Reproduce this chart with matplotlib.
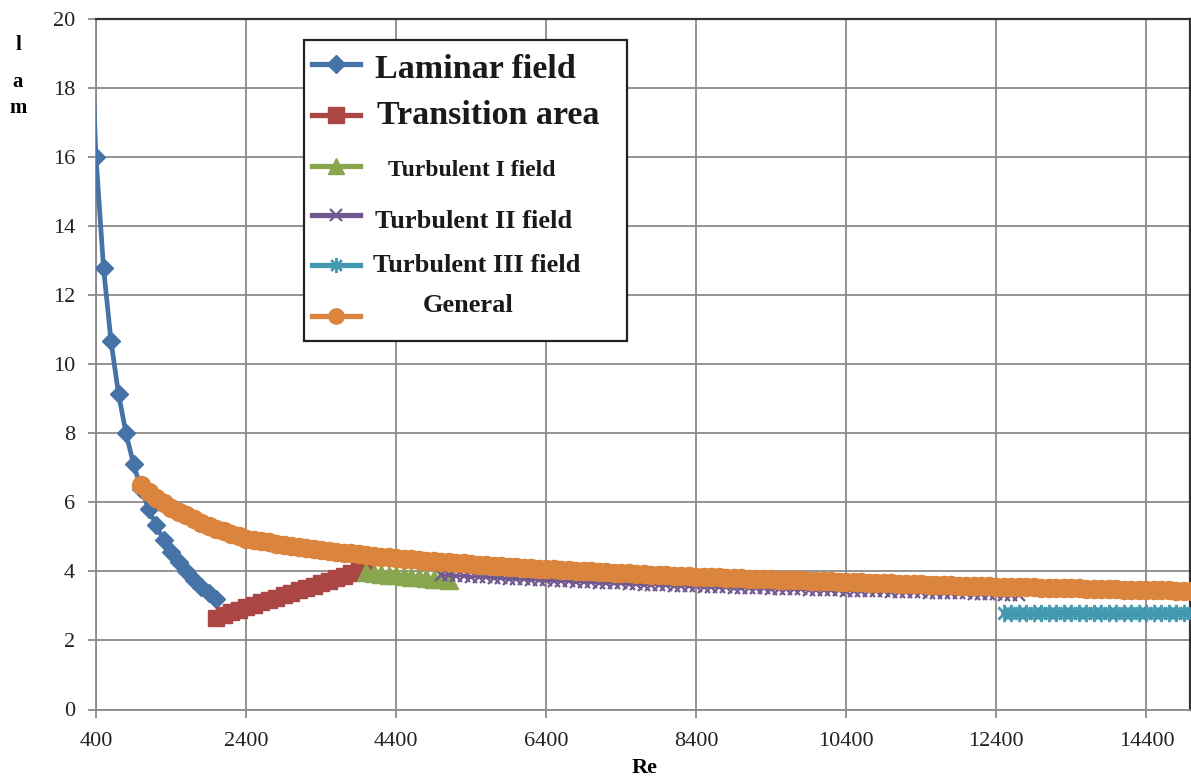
import matplotlib
matplotlib.use("Agg")
import matplotlib.pyplot as plt
from matplotlib.lines import Line2D
from matplotlib.patches import Rectangle
from matplotlib.path import Path

# ---- data ----
laminar_re = [300, 400, 500, 600, 700, 800, 900, 1000, 1100, 1200, 1300,
              1400, 1500, 1600, 1700, 1800, 1900, 2000]
laminar_lam = [21.33, 16.0, 12.8, 10.67, 9.14, 8.0, 7.11, 6.4, 5.82, 5.33, 4.92,
               4.57, 4.27, 4.0, 3.76, 3.56, 3.37, 3.2]

transition_re = [2000, 2100, 2200, 2300, 2400, 2500, 2600, 2700, 2800, 2900, 3000,
                 3100, 3200, 3300, 3400, 3500, 3600, 3700, 3800, 3900, 4000]
transition_lam = [2.65, 2.73, 2.81, 2.89, 2.96, 3.03, 3.10, 3.17, 3.24, 3.31, 3.38,
                  3.45, 3.52, 3.59, 3.66, 3.73, 3.80, 3.87, 3.94, 4.00, 4.06]

turb1_re = [4000, 4100, 4200, 4300, 4400, 4500, 4600, 4700, 4800, 4900, 5000, 5100]
turb1_lam = [3.97, 3.95, 3.93, 3.91, 3.89, 3.87, 3.85, 3.83, 3.81, 3.79, 3.77, 3.75]

turb2_re = list(range(5000, 12701, 100))
turb2_lam = [3.90, 3.89, 3.88, 3.86, 3.85, 3.84, 3.83, 3.82, 3.80, 3.79,
             3.78, 3.77, 3.76, 3.75, 3.74, 3.73, 3.72, 3.71, 3.70, 3.69,
             3.68, 3.67, 3.66, 3.66, 3.65, 3.64, 3.63, 3.62, 3.62, 3.61,
             3.60, 3.59, 3.58, 3.58, 3.57, 3.56, 3.55, 3.55, 3.54, 3.53,
             3.53, 3.52, 3.51, 3.51, 3.50, 3.49, 3.49, 3.48, 3.48, 3.47,
             3.46, 3.46, 3.45, 3.45, 3.44, 3.44, 3.43, 3.43, 3.42, 3.42,
             3.41, 3.40, 3.40, 3.39, 3.39, 3.38, 3.38, 3.37, 3.37, 3.36,
             3.36, 3.35, 3.35, 3.34, 3.34, 3.33, 3.33, 3.32]

turb3_re = list(range(12500, 15001, 100))
turb3_lam = [2.80, 2.80, 2.80, 2.80, 2.80, 2.80, 2.80, 2.80, 2.80, 2.80,
             2.80, 2.80, 2.80, 2.80, 2.80, 2.80, 2.80, 2.80, 2.80, 2.80,
             2.80, 2.80, 2.80, 2.80, 2.80, 2.80]

general_re = list(range(1000, 15001, 100))
general_lam = [6.50, 6.31, 6.14, 5.99, 5.85, 5.73, 5.62, 5.51, 5.41, 5.32,
               5.24, 5.16, 5.09, 5.02, 4.95, 4.91, 4.88, 4.84, 4.80, 4.77,
               4.73, 4.71, 4.68, 4.65, 4.62, 4.59, 4.57, 4.54, 4.52, 4.49,
               4.47, 4.45, 4.43, 4.41, 4.39, 4.37, 4.35, 4.33, 4.31, 4.29,
               4.28, 4.26, 4.24, 4.23, 4.21, 4.19, 4.18, 4.17, 4.15, 4.14,
               4.12, 4.11, 4.10, 4.08, 4.07, 4.06, 4.04, 4.03, 4.02, 4.01,
               4.00, 3.99, 3.98, 3.96, 3.95, 3.94, 3.93, 3.92, 3.91, 3.90,
               3.89, 3.88, 3.87, 3.86, 3.85, 3.84, 3.84, 3.83, 3.82, 3.81,
               3.80, 3.79, 3.78, 3.78, 3.77, 3.76, 3.75, 3.74, 3.74, 3.73,
               3.72, 3.71, 3.71, 3.70, 3.69, 3.69, 3.68, 3.67, 3.66, 3.66,
               3.65, 3.64, 3.64, 3.63, 3.63, 3.62, 3.61, 3.61, 3.60, 3.59,
               3.59, 3.58, 3.58, 3.57, 3.56, 3.56, 3.55, 3.55, 3.54, 3.54,
               3.53, 3.53, 3.52, 3.52, 3.51, 3.51, 3.50, 3.49, 3.49, 3.48,
               3.48, 3.47, 3.47, 3.46, 3.46, 3.46, 3.45, 3.45, 3.44, 3.44,
               3.43]

x_ticks = [400, 2400, 4400, 6400, 8400, 10400, 12400, 14400]
y_ticks = [0, 2, 4, 6, 8, 10, 12, 14, 16, 18, 20]

# Excel-style asterisk marker: x plus vertical bar
star = Path([(0, -1), (0, 1), (-0.7, -0.7), (0.7, 0.7), (-0.7, 0.7), (0.7, -0.7)],
            [Path.MOVETO, Path.LINETO] * 3)

# name, x, y, colour, marker, marker size, line width, edge width,
# legend font size, legend text x/y, legend handle y (pixels)
series = [
    ("Laminar field", laminar_re, laminar_lam, "#4572A7", "D", 9.5, 3.4, 1.0, 24.5, 375, 69, 64),
    ("Transition area", transition_re, transition_lam, "#AA4643", "s", 11, 3.4, 1.0, 24.5, 377, 116, 115),
    ("Turbulent I field", turb1_re, turb1_lam, "#89A54E", "^", 13, 3.4, 1.0, 17, 388, 170, 166),
    ("Turbulent II field", turb2_re, turb2_lam, "#71588F", "x", 8, 2.2, 1.6, 19, 375, 222, 215),
    ("Turbulent III field", turb3_re, turb3_lam, "#4198AF", star, 12.5, 4.0, 2.0, 19, 373, 265, 265),
    ("General", general_re, general_lam, "#DB843D", "o", 13, 4.5, 1.0, 19, 423, 305, 316),
]

W, H = 1191, 779
plt.rcParams["font.family"] = ["Liberation Serif", "DejaVu Serif"]

fig = plt.figure(figsize=(W / 100, H / 100), dpi=100)
ax = fig.add_axes([96 / W, 1 - 709.5 / H, (1190 - 96) / W, (709.5 - 19) / H])


def fx(px):
    return px / W


def fy(py):
    return 1 - py / H


for i, (name, xs, ys, col, mk, ms, lw, mew, fs, tx, ty, hy) in enumerate(series):
    ax.plot(xs, ys, color=col, lw=lw, marker=mk, markersize=ms,
            markerfacecolor=col, markeredgecolor=col, markeredgewidth=mew,
            zorder=3 + i)

ax.set_xlim(400, 14980)
ax.set_ylim(0, 20)
ax.set_xticks(x_ticks)
ax.set_yticks(y_ticks)
ax.grid(True, color="#8a8a8a", lw=1.3)
ax.set_axisbelow(True)
ax.tick_params(axis="both", direction="out", length=6, width=1.3, color="#8a8a8a",
               labelsize=16, labelcolor="#222222")
ax.tick_params(axis="y", pad=9)
ax.tick_params(axis="x", pad=10)
for side in ("left", "bottom"):
    ax.spines[side].set_color("#8a8a8a")
    ax.spines[side].set_linewidth(1.3)
for side in ("top", "right"):
    ax.spines[side].set_color("#333333")
    ax.spines[side].set_linewidth(1.6)

# axis titles
fig.text(fx(645), fy(768), "Re", ha="center", va="center", fontsize=16, fontweight="bold")
for ch, py in (("l", 45), ("a", 82), ("m", 108)):
    fig.text(fx(18), fy(py), ch, ha="center", va="center", fontsize=15, fontweight="bold")

# hand-placed legend box
fig.add_artist(Rectangle((fx(304), fy(341)), (627 - 304) / W, (341 - 40) / H,
                         transform=fig.transFigure, facecolor="white",
                         edgecolor="#222222", lw=1.6, zorder=20))
for name, xs, ys, col, mk, ms, lw, mew, fs, tx, ty, hy in series:
    fig.add_artist(Line2D([fx(312), fx(336), fx(360)], [fy(hy)] * 3,
                          transform=fig.transFigure, color=col, lw=3.8,
                          marker=mk, markevery=[1], markersize=min(ms, 11),
                          markerfacecolor=col, markeredgecolor=col,
                          markeredgewidth=mew, zorder=21))
    fig.text(fx(tx), fy(ty), name, ha="left", va="center", fontsize=fs,
             fontweight="bold", color="#1a1a1a", zorder=22)

fig.savefig("out.png", dpi=100, facecolor="white")
